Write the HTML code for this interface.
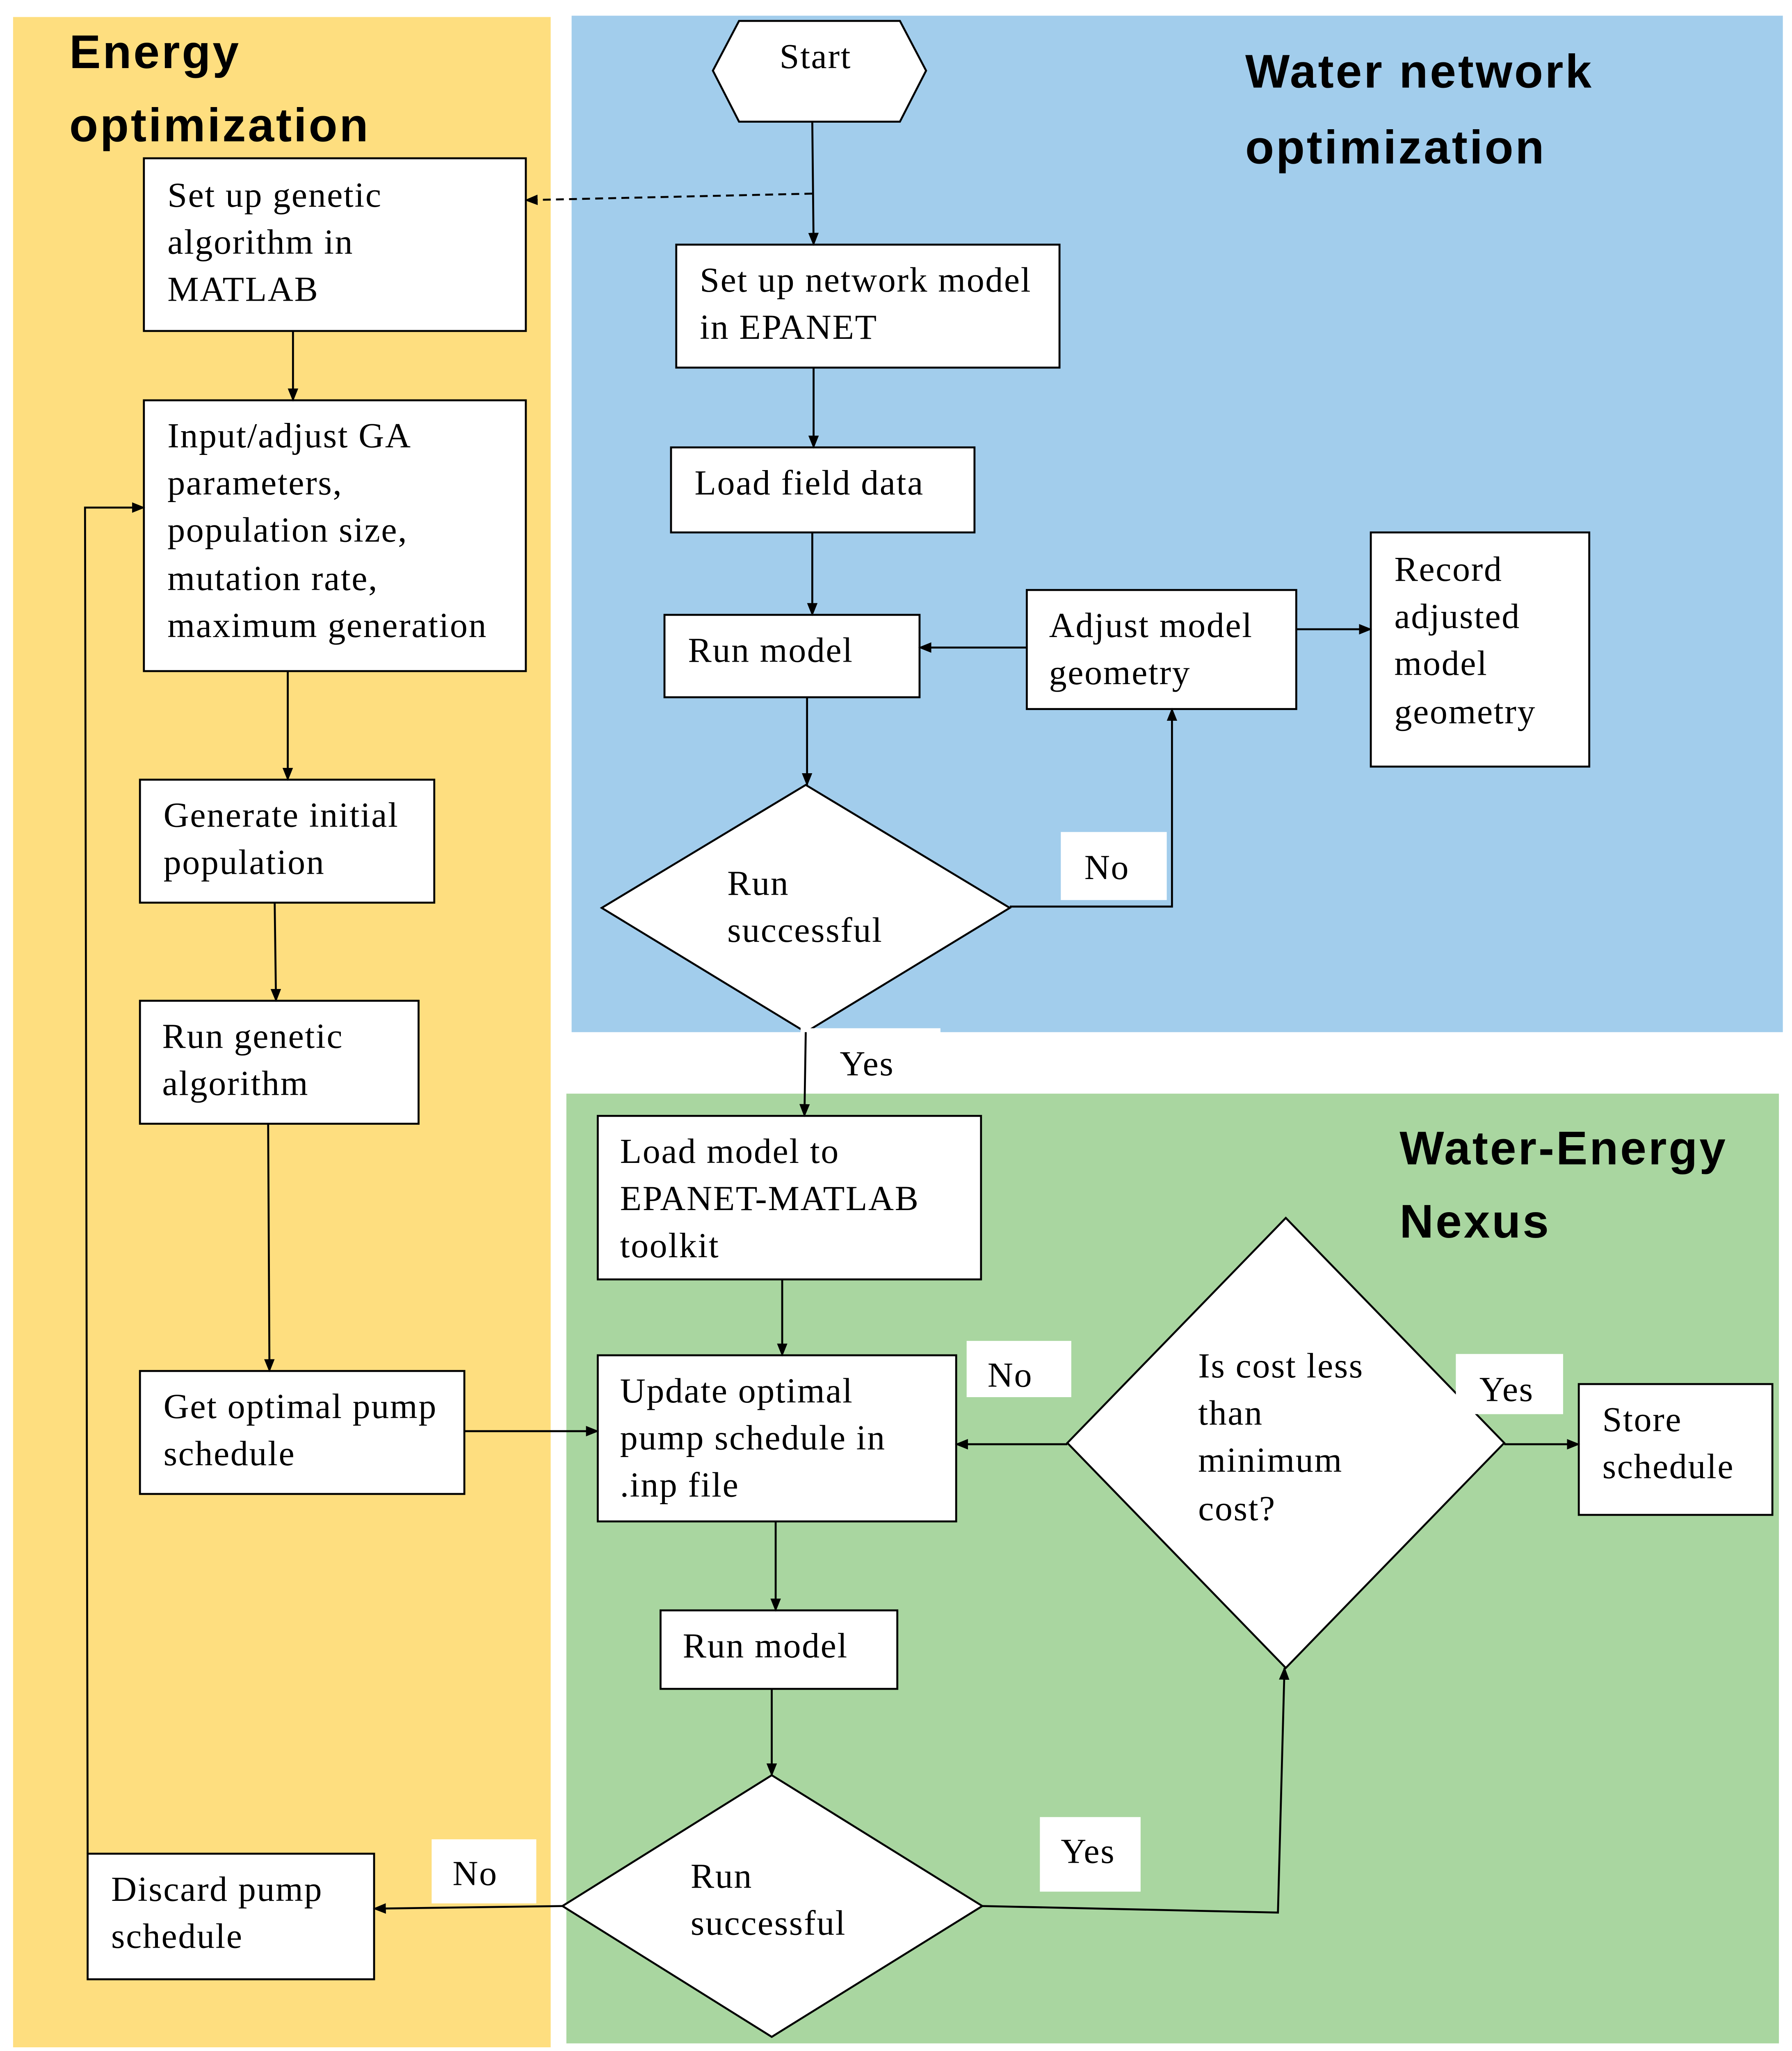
<!DOCTYPE html>
<html><head><meta charset="utf-8"><style>
html,body{margin:0;padding:0;background:#fff;width:4369px;height:5006px;overflow:hidden;position:relative}
svg{display:block;position:absolute;left:0;top:0}
.t{font-family:"Liberation Serif",serif;font-size:27px;letter-spacing:0.8px;fill:#000}
.h{font-family:"Liberation Sans",sans-serif;font-size:36px;letter-spacing:1.5px;font-weight:bold;fill:#000}
</style></head><body>
<svg width="4369" height="5006" viewBox="0 0 1370 1569.7" preserveAspectRatio="none" xmlns="http://www.w3.org/2000/svg">
<defs>
<marker id="a" markerWidth="10" markerHeight="10" refX="9" refY="5" orient="auto" markerUnits="userSpaceOnUse"><path d="M0,1 L10,5 L0,9 z" fill="#000"/></marker>
</defs>
<rect width="1370" height="1569" fill="#fff"/>
<rect x="10" y="13" width="411" height="1552" fill="#FEDE7F"/>
<rect x="437" y="12" width="926" height="777" fill="#A2CDEC"/>
<rect x="433" y="836" width="927" height="726" fill="#A9D6A0"/>
<text class="h" x="53" y="52">Energy</text>
<text class="h" x="53" y="108">optimization</text>
<text class="h" x="952" y="67">Water network</text>
<text class="h" x="952" y="125">optimization</text>
<text class="h" x="1070" y="890">Water-Energy</text>
<text class="h" x="1070" y="946">Nexus</text>
<g fill="#fff" stroke="#000" stroke-width="1.5">
<polygon points="545,54 565,16 688,16 708,54 688,93 565,93"/>
<rect x="110" y="121" width="292" height="132"/>
<rect x="517" y="187" width="293" height="94"/>
<rect x="513" y="342" width="232" height="65"/>
<rect x="508" y="470" width="195" height="63"/>
<rect x="785" y="451" width="206" height="91"/>
<rect x="1048" y="407" width="167" height="179"/>
<polygon points="460,694 616,600 772,694 616,789"/>
<rect x="110" y="306" width="292" height="207"/>
<rect x="107" y="596" width="225" height="94"/>
<rect x="107" y="765" width="213" height="94"/>
<rect x="107" y="1048" width="248" height="94"/>
<rect x="457" y="853" width="293" height="125"/>
<rect x="457" y="1036" width="274" height="127"/>
<rect x="505" y="1231" width="181" height="60"/>
<polygon points="430,1457 590,1357 751,1457 590,1557"/>
<polygon points="816,1103 983,931 1150,1103 983,1275"/>
<rect x="1207" y="1058" width="148" height="100"/>
<rect x="67" y="1417" width="219" height="96"/>
</g>
<g fill="#fff">
<rect x="811" y="636" width="81" height="52"/>
<rect x="612" y="786" width="107" height="48"/>
<rect x="739" y="1025" width="80" height="43"/>
<rect x="1113" y="1035" width="82" height="46"/>
<rect x="795" y="1389" width="77" height="57"/>
<rect x="330" y="1406" width="80" height="49"/>
</g>
<g class="t">
<text x="596" y="52">Start</text>
<text x="128" y="158">Set up genetic</text><text x="128" y="194">algorithm in</text><text x="128" y="230">MATLAB</text>
<text x="535" y="223">Set up network model</text><text x="535" y="259">in EPANET</text>
<text x="531" y="378">Load field data</text>
<text x="526" y="506">Run model</text>
<text x="802" y="487">Adjust model</text><text x="802" y="523">geometry</text>
<text x="1066" y="444">Record</text><text x="1066" y="480">adjusted</text><text x="1066" y="516">model</text><text x="1066" y="553">geometry</text>
<text x="556" y="684">Run</text><text x="556" y="720">successful</text>
<text x="829" y="672">No</text>
<text x="642" y="822">Yes</text>
<text x="128" y="342">Input/adjust GA</text><text x="128" y="378">parameters,</text><text x="128" y="414">population size,</text><text x="128" y="451">mutation rate,</text><text x="128" y="487">maximum generation</text>
<text x="125" y="632">Generate initial</text><text x="125" y="668">population</text>
<text x="124" y="801">Run genetic</text><text x="124" y="837">algorithm</text>
<text x="125" y="1084">Get optimal pump</text><text x="125" y="1120">schedule</text>
<text x="474" y="889">Load model to</text><text x="474" y="925">EPANET-MATLAB</text><text x="474" y="961">toolkit</text>
<text x="474" y="1072">Update optimal</text><text x="474" y="1108">pump schedule in</text><text x="474" y="1144">.inp file</text>
<text x="522" y="1267">Run model</text>
<text x="528" y="1443">Run</text><text x="528" y="1479">successful</text>
<text x="916" y="1053">Is cost less</text><text x="916" y="1089">than</text><text x="916" y="1125">minimum</text><text x="916" y="1162">cost?</text>
<text x="1225" y="1094">Store</text><text x="1225" y="1130">schedule</text>
<text x="85" y="1453">Discard pump</text><text x="85" y="1489">schedule</text>
<text x="755" y="1060">No</text>
<text x="1131" y="1071">Yes</text>
<text x="811" y="1424">Yes</text>
<text x="346" y="1441">No</text>
</g>
<g stroke="#000" stroke-width="1.5" fill="none" marker-end="url(#a)">
<path d="M621,93 L622,187"/>
<path d="M621,148 L402,153" stroke-dasharray="6,4"/>
<path d="M622,281 L622,342"/>
<path d="M621,407 L621,470"/>
<path d="M785,495 L703,495"/>
<path d="M991,481 L1048,481"/>
<path d="M617,533 L617,600"/>
<path d="M772,693 L896,693 L896,542"/>
<path d="M616,789 L615,853"/>
<path d="M224,253 L224,306"/>
<path d="M220,513 L220,596"/>
<path d="M210,690 L211,765"/>
<path d="M205,859 L206,1048"/>
<path d="M355,1094 L457,1094"/>
<path d="M598,978 L598,1036"/>
<path d="M816,1104 L731,1104"/>
<path d="M1150,1104 L1207,1104"/>
<path d="M593,1163 L593,1231"/>
<path d="M590,1291 L590,1357"/>
<path d="M751,1457 L977,1462 L982,1275"/>
<path d="M430,1457 L286,1459"/>
<path d="M67,1417 L65,388 L110,388"/>
</g>
</svg>
</body></html>
